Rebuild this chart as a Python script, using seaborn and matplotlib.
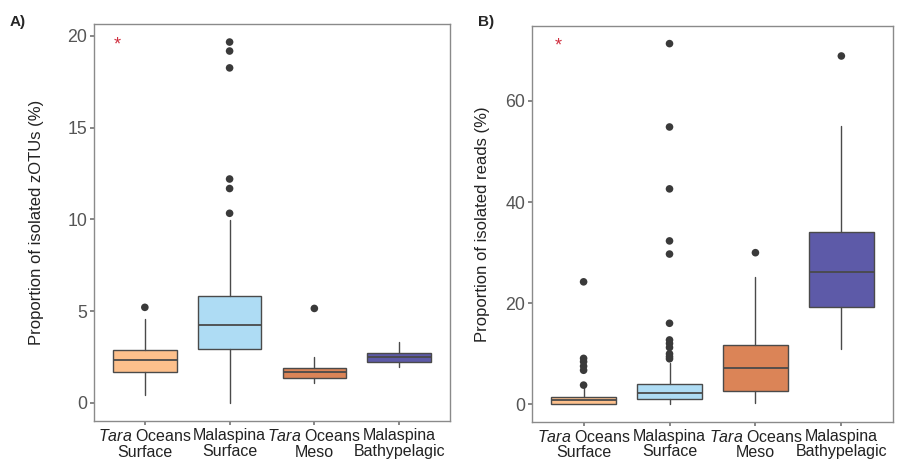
import matplotlib
matplotlib.use("Agg")
import matplotlib.pyplot as plt
import seaborn as sns
import pandas as pd

sns.set_theme(style="white")
plt.rcParams['font.family'] = ['Liberation Sans', 'DejaVu Sans']
plt.rcParams['mathtext.fontset'] = 'custom'
plt.rcParams['mathtext.rm'] = 'Liberation Sans'
plt.rcParams['mathtext.it'] = 'Liberation Sans:italic'

# ---- data ----
groups = ["Tara Oceans Surface", "Malaspina Surface", "Tara Oceans Meso", "Malaspina Bathypelagic"]
tick_labels = ["$\\it{Tara}$ Oceans\nSurface", "Malaspina\nSurface",
               "$\\it{Tara}$ Oceans\nMeso", "Malaspina\nBathypelagic"]
colors = ["#FDC08C", "#AEDCF4", "#DB8457", "#5D5AA8"]

# Panel A: proportion of isolated zOTUs (%)  [whislo, q1, med, q3, whishi]
a_lo = [0.44, 0.0, 1.07, 1.92]
a_q1 = [1.70, 2.92, 1.35, 2.20]
a_med = [2.35, 4.23, 1.65, 2.47]
a_q3 = [2.90, 5.80, 1.87, 2.70]
a_hi = [4.55, 9.97, 2.47, 3.30]
a_fliers = [[5.2], [10.33, 11.68, 12.2, 18.26, 19.18, 19.67], [5.14], []]

# Panel B: proportion of isolated reads (%)
b_lo = [0.0, 0.0, 0.13, 11.0]
b_q1 = [0.06, 0.93, 2.57, 19.14]
b_med = [0.73, 2.24, 7.06, 26.14]
b_q3 = [1.45, 3.96, 11.68, 34.0]
b_hi = [3.30, 8.2, 25.08, 55.1]
b_fliers = [[3.76, 6.7, 7.5, 8.4, 9.05, 24.2],
            [8.97, 9.4, 9.96, 11.2, 12.0, 12.7, 16.0, 29.7, 32.3, 42.6, 54.85, 71.35],
            [29.97], [68.9]]

fig = plt.figure(figsize=(9.09, 4.63), dpi=100)
axA = fig.add_axes([0.1034, 0.0907, 0.3916, 0.8573])
axB = fig.add_axes([0.5853, 0.0890, 0.3970, 0.8550])

def draw(ax, lo, q1, med, q3, hi, fliers, ylim, yticks, ylabel, star_xy, labelpad):
    stats = []
    for i in range(len(groups)):
        stats.append(dict(whislo=lo[i], q1=q1[i], med=med[i], q3=q3[i], whishi=hi[i], fliers=[]))
    bp = ax.bxp(stats, positions=range(len(groups)), widths=0.75, patch_artist=True,
                showfliers=False, showcaps=False,
                boxprops=dict(edgecolor="#4a4a4a", linewidth=1.0),
                medianprops=dict(color="#4a4a4a", linewidth=1.3),
                whiskerprops=dict(color="#4a4a4a", linewidth=1.0))
    for patch, c in zip(bp['boxes'], colors):
        patch.set_facecolor(c)
    rows = [(i, v) for i, fl in enumerate(fliers) for v in fl]
    df = pd.DataFrame(rows, columns=["pos", "value"])
    sns.scatterplot(data=df, x="pos", y="value", ax=ax, color="#3a3a3a", s=30,
                    edgecolor="none", zorder=3, legend=False)
    ax.set_xlim(-0.6, 3.6)
    ax.set_ylim(*ylim)
    ax.set_yticks(yticks)
    ax.set_xticks(range(len(groups)))
    ax.set_xticklabels(tick_labels, fontsize=11.5, color="#222222", linespacing=1.05)
    ax.tick_params(axis='y', labelsize=12.8, labelcolor="#555555", length=3, color="#777777", left=True, pad=2)
    ax.tick_params(axis='x', length=3, color="#777777", bottom=True, pad=2)
    ax.set_xlabel("")
    ax.set_ylabel(ylabel, fontsize=12, color="#222222", labelpad=labelpad)
    for s in ax.spines.values():
        s.set_color("#8a8a8a")
        s.set_linewidth(1.0)
    ax.text(star_xy[0], star_xy[1], "*", color="#d03040", fontsize=13,
            ha="center", va="center")

draw(axA, a_lo, a_q1, a_med, a_q3, a_hi, a_fliers, (-1.0, 20.65), [0, 5, 10, 15, 20],
     "Proportion of isolated zOTUs (%)", (-0.32, 19.52), 17)
draw(axB, b_lo, b_q1, b_med, b_q3, b_hi, b_fliers, (-3.5, 74.85), [0, 20, 40, 60],
     "Proportion of isolated reads (%)", (-0.30, 70.9), 11)

fig.text(10 / 909, 1 - 22 / 463, "A)", fontsize=11, fontweight="bold", ha="left", va="center")
fig.text(478 / 909, 1 - 22 / 463, "B)", fontsize=11, fontweight="bold", ha="left", va="center")

fig.savefig("out.png", dpi=100)
